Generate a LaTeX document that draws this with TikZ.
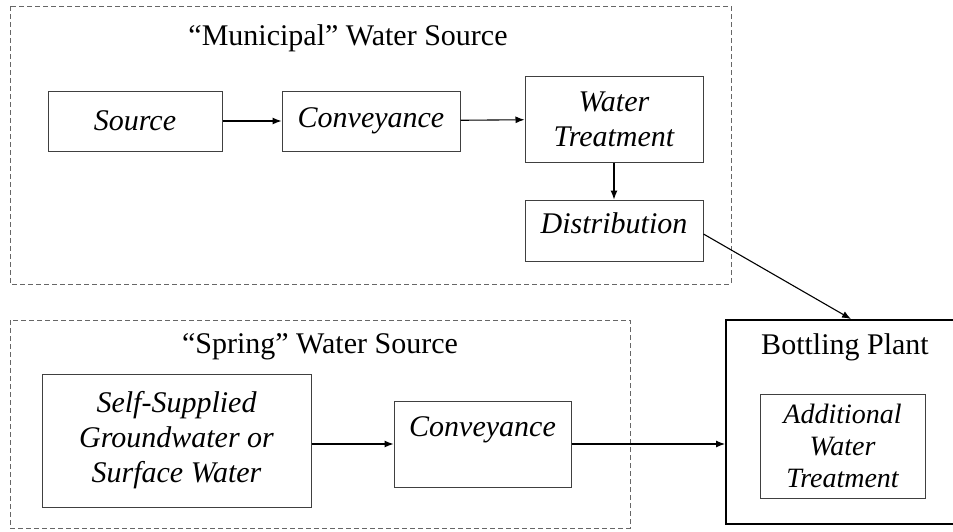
\documentclass[tikz,border=0pt]{standalone}
\usepackage{fontspec}
\setmainfont{Liberation Serif}
\usetikzlibrary{arrows.meta}
\begin{document}
\begin{tikzpicture}[x=1pt,y=-1pt,
    font=\fontsize{30}{35}\selectfont,
    stage/.style={draw=black!75,line width=1pt,align=center,font=\fontsize{30}{35}\selectfont\itshape},
    group/.style={draw=black!60,line width=1pt,dash pattern=on 5pt off 3pt},
    flow/.style={-{Latex[length=9pt,width=7pt]},line width=1.1pt}]
    \useasboundingbox (0,0) rectangle (953,531);
    % municipal supply
    \draw [group] (10,6) rectangle (731,284);
    \node (mtitle) at (348,38) {``Municipal'' Water Source};
    \node [stage,minimum width=174pt,minimum height=60pt] (src) at (135,121) {Source};
    \node [stage,minimum width=178pt,minimum height=60pt] (conv) at (371,121) {Conveyance};
    \node [stage,minimum width=178pt,minimum height=86pt] (treat) at (614,119) {Water\\Treatment};
    \node [stage,minimum width=178pt,minimum height=61pt,text depth=14pt] (dist) at (614,230.5) {Distribution};
    % spring supply
    \draw [group] (10,320) rectangle (630,528);
    \node (stitle) at (320,347) {``Spring'' Water Source};
    \node [stage,minimum width=269pt,minimum height=133pt] (self) at (176.5,440.5) {Self-Supplied\\Groundwater or\\Surface Water};
    \node [stage,minimum width=177pt,minimum height=86pt,text height=20pt,text depth=36pt] (sconv) at (482.5,444) {Conveyance};
    % plant
    \node [draw,line width=2pt,minimum width=236pt,minimum height=204pt] (plant) at (844,422) {};
    \node (ptitle) at (845,347) {Bottling Plant};
    \node [stage,line width=0.8pt,minimum width=165pt,minimum height=104pt,font=\fontsize{28}{32}\selectfont\itshape] (add) at (842.5,446) {Additional\\Water\\Treatment};
    \coordinate (pin) at ([xshift=126pt]plant.north west);
    \draw [flow] (src) -- (conv);
    \draw [flow] (conv) -- (treat);
    \draw [flow] (treat) -- (dist);
    \draw [flow] ([yshift=-3.5pt]dist.east) -- (pin);
    \draw [flow] (self.east |- sconv.west) -- (sconv.west);
    \draw [flow] (sconv.east) -- (sconv.east -| plant.west);
\end{tikzpicture}
\end{document}
